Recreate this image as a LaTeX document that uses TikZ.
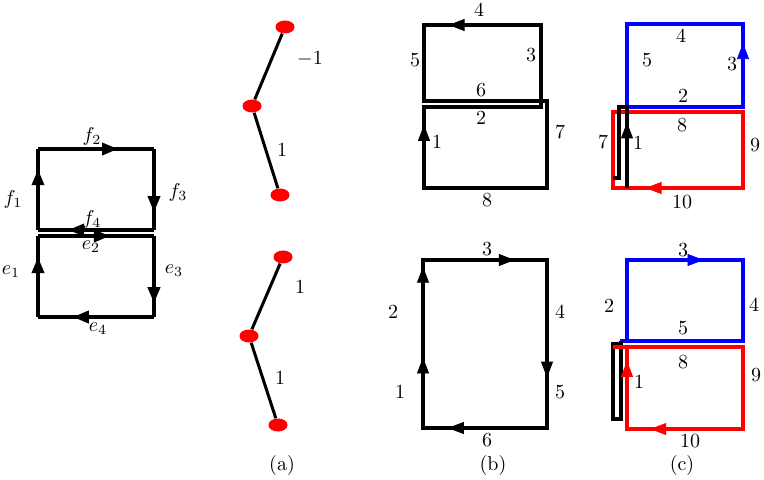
\documentclass[tikz,border=0pt]{standalone}
\usetikzlibrary{arrows.meta,decorations.markings,shapes.geometric}
\tikzset{
  lw/.style={line width=1.8pt},
  mid/.style={postaction={decorate,decoration={markings,
    mark=at position #1 with {\arrow{Triangle[length=8pt,width=6pt]}}}}},
  dot/.style={ellipse,fill=red,inner sep=0pt,minimum width=9.5pt,minimum height=6.5pt},
}
\begin{document}
\begin{tikzpicture}[x=0.5pt,y=-0.5pt]
\useasboundingbox (0,0) rectangle (764,480);
% left: the two loops f and e
\coordinate (A1) at (38,149);  \coordinate (A2) at (154,149);
\coordinate (A3) at (154,230); \coordinate (A4) at (38,230);
\coordinate (B1) at (38,236);  \coordinate (B2) at (154,236);
\coordinate (B3) at (154,317); \coordinate (B4) at (38,317);
\draw[lw,mid=0.75] (A4) -- (A1);
\draw[lw,mid=0.69] (A1) -- (A2);
\draw[lw,mid=0.78] (A2) -- (A3);
\draw[lw,mid=0.74] (A3) -- (A4);
\draw[lw,mid=0.74] (B4) -- (B1);
\draw[lw,mid=0.62] (B1) -- (B2);
\draw[lw,mid=0.83] (B2) -- (B3);
\draw[lw,mid=0.70] (B3) -- (B4);
\node (lf1) at (13,200) {$f_1$};
\node (lf2) at (92,137) {$f_2$};
\node (lf3) at (178,193) {$f_3$};
\node (lf4) at (92,220) {$f_4$};
\node (le1) at (11,272) {$e_1$};
\node (le2) at (91,247) {$e_2$};
\node (le3) at (174,271) {$e_3$};
\node (le4) at (98,329) {$e_4$};
% (a) trees
\node[dot] (t1) at (285,27) {};
\node[dot] (t2) at (252,106) {};
\node[dot] (t3) at (280,195) {};
\draw[line width=1.5pt] (t1) -- (t2) -- (t3);
\node (w1) at (310,59) {$-1$};
\node (w2) at (282,150) {$1$};
\node[dot] (u1) at (283,257) {};
\node[dot] (u2) at (249,336) {};
\node[dot] (u3) at (278,425) {};
\draw[line width=1.5pt] (u1) -- (u2) -- (u3);
\node (w3) at (300,287) {$1$};
\node (w4) at (280,378) {$1$};
% (b)
\coordinate (P1) at (424,188); \coordinate (P2) at (424,107);
\coordinate (P3) at (541,107); \coordinate (P4) at (541,25);
\coordinate (P5) at (424,25);  \coordinate (P6) at (424,101);
\coordinate (P7) at (547,101); \coordinate (P8) at (547,188);
\draw[lw] (P1) -- (P2) -- (P3) -- (P4) -- (P5) -- (P6) -- (P7) -- (P8) -- cycle;
\path[mid=0.78] (P1) -- (P2);
\path[mid=0.79] (P4) -- (P5);
\node (b4) at (479,10) {$4$};
\node (b5) at (415,60) {$5$};
\node (b3) at (531,55) {$3$};
\node (b6) at (481,90) {$6$};
\node (b2) at (481,118) {$2$};
\node (b1) at (437,142) {$1$};
\node (b7) at (560,132) {$7$};
\node (b8) at (487,200) {$8$};
\coordinate (Q1) at (423,428); \coordinate (Q2) at (423,260);
\coordinate (Q3) at (547,260); \coordinate (Q4) at (547,428);
\draw[lw] (Q1) -- (Q2) -- (Q3) -- (Q4) -- cycle;
\path[mid=0.42] (Q1) -- (Q2);
\path[mid=0.96] (Q1) -- (Q2);
\path[mid=0.74] (Q2) -- (Q3);
\path[mid=0.70] (Q3) -- (Q4);
\path[mid=0.80] (Q4) -- (Q1);
\node (bb3) at (487,249) {$3$};
\node (bb2) at (393,312) {$2$};
\node (bb4) at (560,312) {$4$};
\node (bb1) at (400,392) {$1$};
\node (bb5) at (560,392) {$5$};
\node (bb6) at (487,440) {$6$};
% (c)
\coordinate (C1) at (627,107); \coordinate (C2) at (743,107);
\coordinate (C3) at (743,24);  \coordinate (C4) at (627,24);
\coordinate (R1) at (613,112); \coordinate (R2) at (743,112);
\coordinate (R3) at (743,188); \coordinate (R4) at (613,188);
\coordinate (K1) at (613,178); \coordinate (K2) at (619,178);
\coordinate (K3) at (619,107); \coordinate (K4) at (627,188);
\draw[lw,blue] (C1) -- (C2) -- (C3) -- (C4) -- cycle;
\path[blue,mid=0.77] (C2) -- (C3);
\draw[lw,red] (R1) -- (R2) -- (R3) -- (R4) -- cycle;
\path[red,mid=0.75] (R3) -- (R4);
\draw[lw] (K1) -- (K2) -- (K3) -- (C1) -- (K4);
\path[mid=0.81] (K4) -- (C1);
\node (c4) at (681,36) {$4$};
\node (c5) at (647,60) {$5$};
\node (c3) at (732,64) {$3$};
\node (c2) at (683,96) {$2$};
\node (c8) at (682,125) {$8$};
\node (c7) at (603,142) {$7$};
\node (c1) at (638,143) {$1$};
\node (c9) at (755,145) {$9$};
\node (c10) at (682,202) {$10$};
\coordinate (D1) at (620,341); \coordinate (D2) at (743,341);
\coordinate (D3) at (743,260); \coordinate (D4) at (627,260);
\coordinate (E1) at (613,347); \coordinate (E2) at (743,347);
\coordinate (E3) at (743,429); \coordinate (E4) at (627,429);
\coordinate (E5) at (627,347);
\draw[lw,blue] (D1) -- (D2) -- (D3) -- (D4) -- (627,341);
\path[blue,mid=0.66] (D4) -- (D3);
\draw[lw] (621,341) -- (621,419) -- (613,419) -- (613,344) -- (621,344);
\draw[lw,red] (E1) -- (E2) -- (E3) -- (E4) -- (E5);
\path[red,mid=0.80] (E3) -- (E4);
\path[red,mid=0.83] (E4) -- (E5);
\node (d3) at (683,250) {$3$};
\node (d2) at (609,306) {$2$};
\node (d4) at (754,305) {$4$};
\node (d5) at (683,328) {$5$};
\node (d8) at (683,362) {$8$};
\node (d1) at (639,382) {$1$};
\node (d9) at (756,375) {$9$};
\node (d10) at (690,441) {$10$};
% captions
\node (capa) at (282,465) {(a)};
\node (capb) at (493,465) {(b)};
\node (capc) at (682,465) {(c)};
\end{tikzpicture}
\end{document}
